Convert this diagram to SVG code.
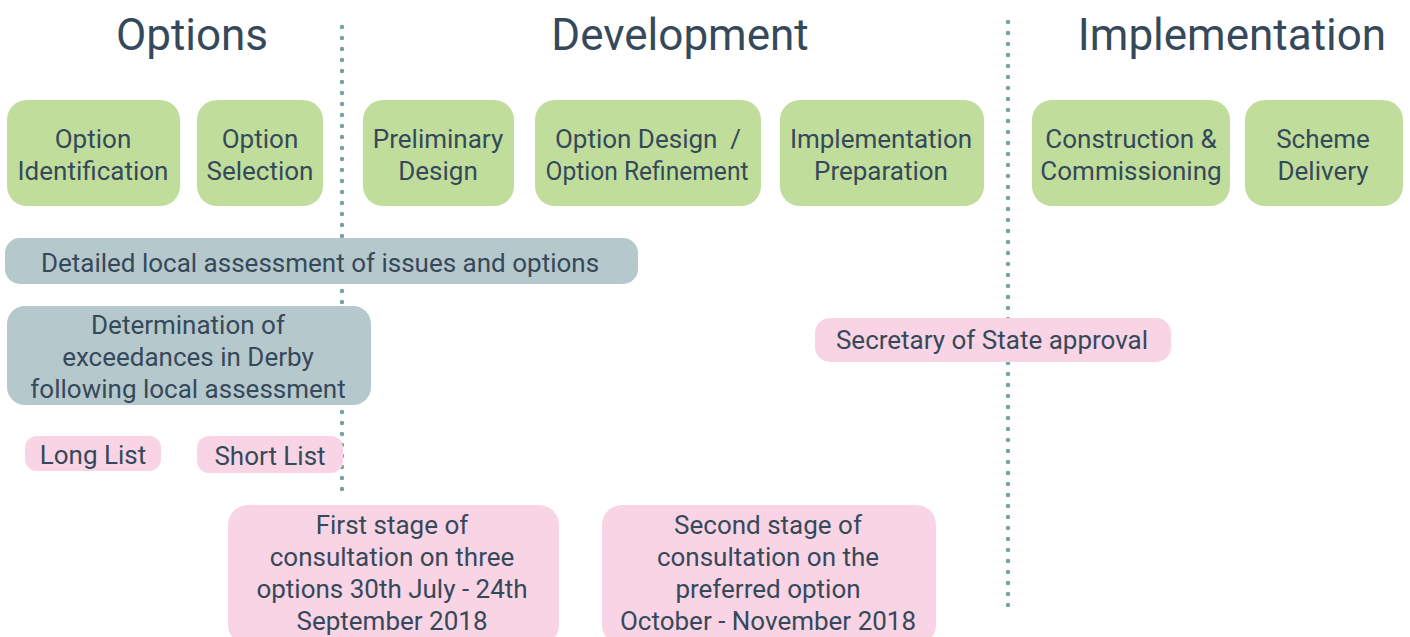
<svg xmlns="http://www.w3.org/2000/svg" width="1410" height="637" viewBox="0 0 1410 637">
<style>
text{font-family:Roboto,"Liberation Sans",sans-serif;fill:#36495a;text-anchor:middle}
.t{font-size:44px}
.b{font-size:26px}
.g{fill:#c0dd9c}
.s{fill:#b5c8cc}
.p{fill:#f9d4e4}
.d{stroke:#7aa0a9;stroke-width:4.5;stroke-linecap:round;stroke-dasharray:0 11;fill:none}
</style>
<rect width="1410" height="637" fill="#fff"/>
<g id="dividers">
<line class="d" x1="342" y1="27" x2="342" y2="500"/>
<line class="d" x1="1008" y1="22" x2="1008" y2="614"/>
</g>
<g id="titles">
<text class="t" x="192" y="50">Options</text>
<text class="t" x="680" y="50">Development</text>
<text class="t" x="1232" y="50">Implementation</text>
</g>
<g id="option-identification"><rect class="g" x="7" y="100" width="173" height="106" rx="20"/><text class="b" x="93" y="148">Option</text><text class="b" x="93" y="180">Identification</text></g>
<g id="option-selection"><rect class="g" x="197" y="100" width="126" height="106" rx="20"/><text class="b" x="260" y="148">Option</text><text class="b" x="260" y="180">Selection</text></g>
<g id="preliminary-design"><rect class="g" x="363" y="100" width="151" height="106" rx="20"/><text class="b" x="438" y="148">Preliminary</text><text class="b" x="438" y="180">Design</text></g>
<g id="option-design"><rect class="g" x="535" y="100" width="226" height="106" rx="20"/><text class="b" x="648" y="148">Option Design&#160; /</text><text class="b" x="647" y="180" textLength="203" lengthAdjust="spacingAndGlyphs">Option Refinement</text></g>
<g id="implementation-preparation"><rect class="g" x="780" y="100" width="204" height="106" rx="20"/><text class="b" x="881" y="148">Implementation</text><text class="b" x="881" y="180">Preparation</text></g>
<g id="construction"><rect class="g" x="1032" y="100" width="198" height="106" rx="20"/><text class="b" x="1131" y="148">Construction &amp;</text><text class="b" x="1131" y="180">Commissioning</text></g>
<g id="scheme-delivery"><rect class="g" x="1245" y="100" width="158" height="106" rx="20"/><text class="b" x="1323" y="148">Scheme</text><text class="b" x="1323" y="180">Delivery</text></g>
<g id="detailed-assessment"><rect class="s" x="5" y="238" width="633" height="46" rx="15"/><text class="b" x="320" y="272">Detailed local assessment of issues and options</text></g>
<g id="determination"><rect class="s" x="7" y="306" width="364" height="99" rx="18"/><text class="b" x="188" y="334">Determination of</text><text class="b" x="188" y="366">exceedances in Derby</text><text class="b" x="188" y="398">following local assessment</text></g>
<g id="long-list"><rect class="p" x="25" y="436" width="136" height="35" rx="12"/><text class="b" x="93" y="464">Long List</text></g>
<g id="short-list"><rect class="p" x="197" y="436" width="146" height="37" rx="12"/><text class="b" x="270" y="465">Short List</text></g>
<g id="secretary"><rect class="p" x="815" y="318" width="356" height="44" rx="15"/><text class="b" x="992" y="349">Secretary of State approval</text></g>
<g id="first-stage"><rect class="p" x="228" y="505" width="331" height="140" rx="20"/><text class="b" x="392" y="534">First stage of</text><text class="b" x="392" y="566">consultation on three</text><text class="b" x="392" y="598">options 30th July - 24th</text><text class="b" x="392" y="630">September 2018</text></g>
<g id="second-stage"><rect class="p" x="602" y="505" width="334" height="140" rx="20"/><text class="b" x="768" y="534">Second stage of</text><text class="b" x="768" y="566">consultation on the</text><text class="b" x="768" y="598">preferred option</text><text class="b" x="768" y="630">October - November 2018</text></g>
</svg>
